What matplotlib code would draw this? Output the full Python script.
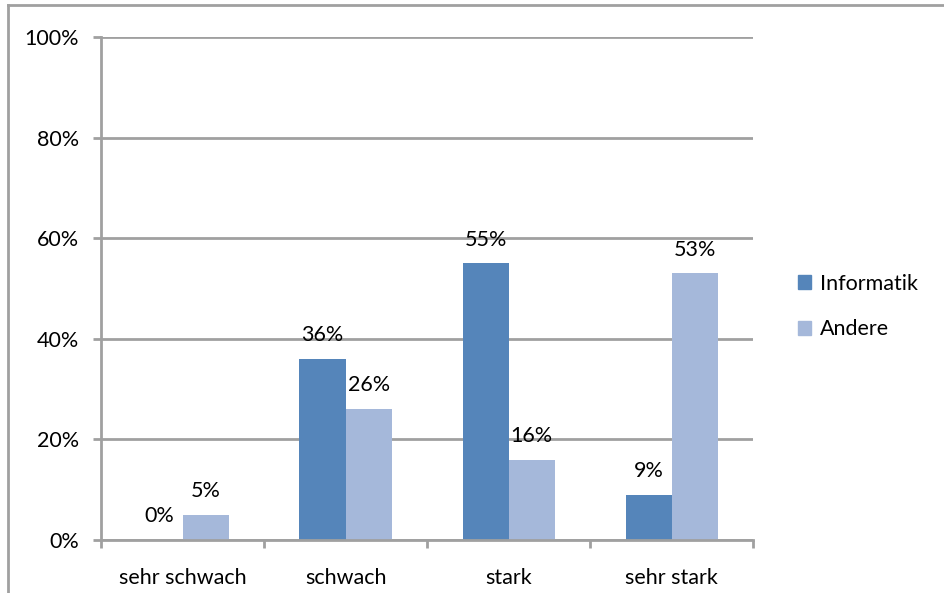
import numpy as np
import matplotlib
matplotlib.use("Agg")
import matplotlib.pyplot as plt
from matplotlib.lines import Line2D
from matplotlib.patches import Patch

# data
categories = ["sehr schwach", "schwach", "stark", "sehr stark"]
informatik = [0, 36, 55, 9]
andere = [5, 26, 16, 53]
series_names = ["Informatik", "Andere"]

C_INF = "#5585BA"
C_AND = "#A5B8DA"
GRID = "#A0A0A0"
FS = 15.5

plt.rcParams["font.family"] = ["Lato", "DejaVu Sans"]

fig = plt.figure(figsize=(9.44, 5.93), dpi=100)
ax = fig.add_axes([0.107, 0.0894, 0.691, 0.848])

x = np.arange(len(categories))
w = 0.283
b1 = ax.bar(x - w / 2, informatik, w, color=C_INF, zorder=3)
b2 = ax.bar(x + w / 2, andere, w, color=C_AND, zorder=3)

for bars, vals in ((b1, informatik), (b2, andere)):
    for r, v in zip(bars, vals):
        ax.annotate(f"{v}%", (r.get_x() + r.get_width() / 2, v),
                    xytext=(0, 10), textcoords="offset points",
                    ha="center", va="bottom", fontsize=FS)

ax.set_xlim(-0.5, len(categories) - 0.5)
ax.set_ylim(0, 100)
ax.set_yticks(range(0, 101, 20))
ax.set_yticklabels([f"{t}%" for t in range(0, 101, 20)], fontsize=FS)
ax.set_xticks(x)
ax.set_xticklabels(categories, fontsize=FS)
ax.tick_params(axis="x", length=0, pad=20)
ax.set_xticks(np.arange(-0.5, len(categories)), minor=True)
ax.tick_params(axis="x", which="minor", length=6, width=2, color=GRID, direction="out")
ax.tick_params(axis="y", length=6, width=2, color=GRID, pad=10)

ax.grid(axis="y", color=GRID, lw=2, zorder=0)
ax.set_axisbelow(True)
for s in ("top", "right"):
    ax.spines[s].set_visible(False)
for s in ("left", "bottom"):
    ax.spines[s].set_color(GRID)
    ax.spines[s].set_linewidth(2)
ax.spines["bottom"].set_zorder(4)

handles = [Patch(color=C_INF), Patch(color=C_AND)]
fig.legend(handles, series_names, loc="center left", bbox_to_anchor=(0.825, 0.483),
           frameon=False, fontsize=FS, handlelength=0.6, handleheight=0.6,
           handletextpad=0.4, labelspacing=1.2)

# outer chart frame (cropped at right/bottom)
fig.add_artist(Line2D([0.0085, 1.0], [0.9916, 0.9916], transform=fig.transFigure,
                      color=GRID, lw=2))
fig.add_artist(Line2D([0.0085, 0.0085], [0.0, 0.9916], transform=fig.transFigure,
                      color=GRID, lw=2))

fig.savefig("out.png", dpi=100)
